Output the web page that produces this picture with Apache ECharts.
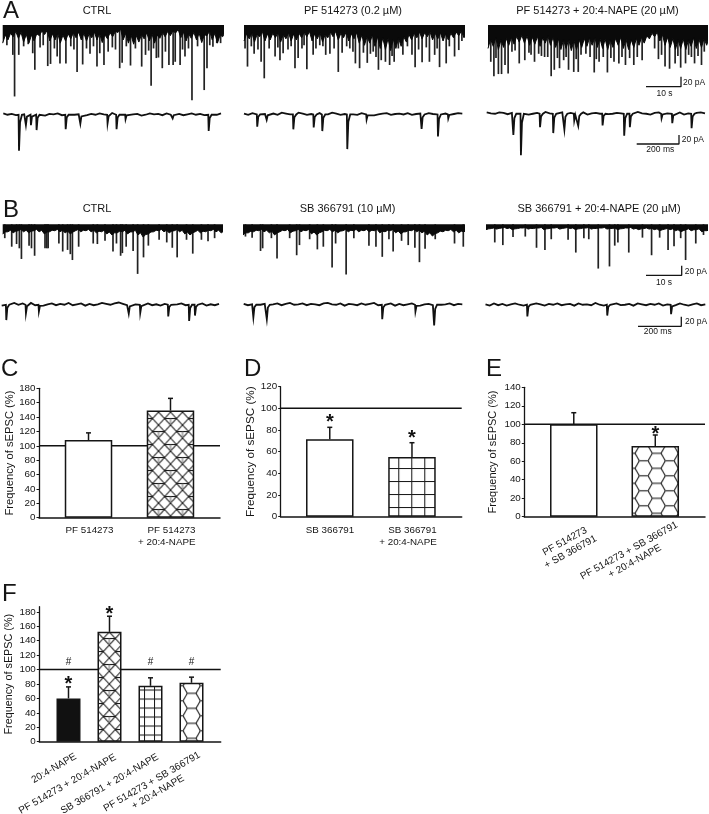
<!DOCTYPE html>
<html>
<head>
<meta charset="utf-8">
<title>sEPSC frequency</title>
<style>
  html, body { margin: 0; padding: 0; background: #fff; }
  #chart { width: 709px; height: 814px; }
</style>
<script src="https://cdn.jsdelivr.net/npm/echarts@6/dist/echarts.min.js"></script>
</head>
<body>
<div id="chart"></div>
<script>
// ---- long traces: time in s, depth in pA ----
var envelopeStep = 1.5
var a1Envelope = [34,28,22,25,32,34,30,20,18,30,28,34,30,26,24,28,30,24,28,33,26,22,14,28,34,36,32,26,30,34,25,22,20,15,24,30,25,28,33,20,28,34,22]
var a1Spikes = [[3.4,134],[4.6,56],[2.9,56],[9.2,84],[8.6,53],[12.9,77],[13.7,73],[15.6,59],[16.4,72],[18.1,72],[21.3,88],[22.9,74],[25,54],[27,78],[27.8,53],[29,75],[30.2,50],[33.5,81],[34.2,71],[36.6,76],[39.8,78],[40.9,56],[42.5,114],[44,62],[44.6,61],[45.7,81],[47.6,75],[48.8,75],[49.4,69],[50.8,75],[52.2,59],[54.2,141],[57.7,122],[58.5,81],[60.2,41],[61.3,34],[62.4,34]]
var a1Teeth = [[1.2,38],[6,40],[7.3,36],[10.7,42],[11.6,38],[14.8,44],[19.5,40],[20.4,46],[24,44],[26,40],[31.4,42],[32.3,46],[35.4,40],[38,44],[41.8,48],[43.2,44],[46.6,50],[51.5,46],[53.2,44],[55.8,40],[59.3,38]]
var a2Envelope = [30,26,32,22,30,28,24,32,26,30,28,24,22,30,26,32,24,22,28,24,30,26,34,38,34,40,44,46,48,44,40,32,28,24,26,22,28,26,30,28,24,20,24]
var a2Spikes = [[1,78],[5.8,100],[4.9,69],[2.9,54],[8.9,59],[10.3,66],[11.2,53],[14.6,81],[15.5,62],[18,83],[19.8,56],[21.7,38],[23.4,56],[24.6,54],[27,88],[28.1,52],[31.2,50],[31.9,72],[33.1,81],[35.3,71],[37,50],[38.5,84],[39.3,66],[40.5,69],[41.7,75],[43,69],[45.5,56],[48.1,56],[49,79],[51,70],[53.1,69],[54.6,56],[56,79],[57.9,72],[60.3,59],[61.5,47]]
var a2Teeth = [[0.3,44],[2.1,40],[4,46],[7.2,44],[9.7,42],[12.6,46],[13.5,40],[16.6,44],[17.2,38],[20.6,44],[22.6,40],[25.8,44],[29.4,40],[30.3,44],[34.2,52],[36.2,54],[37.8,60],[42.4,58],[44.2,44],[46.8,40],[50,46],[52.2,42],[55.3,44],[58.8,40],[62.4,30]]
var a3Envelope = [44,40,46,42,38,36,32,34,38,36,40,34,38,42,46,44,48,46,42,40,38,42,44,46,42,38,44,46,42,38,34,26,22,30,38,42,46,44,46,40,44,42,38]
var a3Spikes = [[0.8,69],[1.7,96],[3,92],[3.9,92],[4.9,75],[5.8,91],[9,72],[10.6,66],[13.4,69],[16.3,60],[18.2,96],[19.1,84],[20.6,81],[21.8,66],[23.2,84],[24.7,88],[26,88],[26.8,56],[30.6,89],[32,69],[34.4,89],[36.3,69],[37.7,72],[39.6,75],[42,75],[44.4,66],[49.1,64],[51,78],[52.3,82],[53.9,72],[55.5,80],[56.9,72],[59.5,72],[61.5,75]]
var a3Teeth = [[2.3,62],[6.9,50],[7.8,48],[11.8,52],[12.4,56],[14.6,54],[15.4,58],[17.2,60],[20,62],[22.5,60],[25.4,64],[28.2,54],[29.4,60],[31.2,64],[33.2,60],[35.4,62],[38.6,60],[40.8,62],[43,60],[48,44],[50,56],[54.7,58],[57.8,56],[58.6,60],[60.5,58],[62.3,50]]
var b1Envelope = [18,14,16,12,14,16,12,14,18,14,12,14,16,18,12,14,12,14,16,14,18,20,16,14,18,14,20,24,18,14,12,14,16,12,14,18,20,14,16,14,12,14,16]
var b1Spikes = [[0.6,26],[2.6,42],[4,37],[4.8,45],[5.4,65],[7.6,40],[8.3,45],[9.2,59],[12.2,45],[12.7,45],[13.1,45],[16.2,36],[17.3,51],[18.7,48],[19.5,56],[20.1,67],[21.9,42],[26.1,36],[27.3,37],[29.5,31],[31.8,51],[32.8,36],[34,59],[34.5,54],[35.6,42],[37.6,50],[38.9,93],[40.6,62],[42,40],[45.1,29],[47.3,34],[48.9,44],[50.3,62],[53,29],[54.8,55],[57.3,29],[59.2,32],[61.1,26]]
var b2Envelope = [20,16,14,12,14,16,20,14,12,16,12,14,12,18,20,14,12,14,16,12,14,12,14,12,14,12,16,14,12,16,18,14,12,14,16,20,22,16,14,12,14,16,14]
var b2Spikes = [[0.7,23],[2.6,25],[5,50],[5.6,45],[8.1,26],[9.7,64],[13.3,26],[15.3,58],[16.1,39],[19,28],[21.2,47],[22.9,42],[25.4,81],[26.4,36],[29.4,94],[31.6,26],[35.9,40],[37.9,42],[39.7,61],[41.6,28],[42.8,51],[45.2,31],[47.1,39],[49,44],[50.3,71],[51.9,46],[54.8,28],[60.3,36],[62.8,42]]
var b3Envelope = [10,8,9,7,8,10,8,7,9,8,7,10,8,7,9,7,8,10,8,7,9,8,7,9,8,10,8,7,9,10,8,9,10,12,9,10,12,14,10,12,10,14,12]
var b3Spikes = [[2.5,34],[4.8,39],[7.7,24],[11.2,23],[14.4,44],[16.8,48],[18.6,28],[23.4,29],[25.6,53],[27.9,26],[29.3,28],[32,83],[35.2,79],[36.7,40],[37.6,34],[40.7,53],[44.6,25],[47.2,58],[49.5,25],[51.9,48],[53.6,41],[55.5,26],[56.9,67],[59.8,36],[62,20]]

// ---- short traces: time in ms, pA ----
var noiseStep = 20
var a1ShortNoise = [2,-1,1,-2,3,0,-2,1,2,-1,-3,1,0,2,-2,1,3,-1,0,2,-2,1,-1,2,0,-2,3,1,-1,2,-2,0,1,-3,-1,2,0,1,-2,2,-1,-3,1,-2,0,2,-1,1,-2,2,0,-1,2]
var a1ShortEvents = [[75,81],[108,24],[132,24],[159,35],[298,33],[368,21],[498,20],[541,33],[584,11],[809,9],[981,37]]
var a2ShortNoise = [1,-2,2,-1,-3,0,2,1,-2,3,1,-1,2,3,1,-2,0,1,2,-2,-1,3,1,-2,0,2,-1,-2,2,0,-1,-3,-1,1,2,-2,0,1,-1,2,-2,0,1,-2,2,0,-3,-1,1,-2,0,2,1]
var a2ShortEvents = [[63,28],[108,13],[235,34],[332,30],[373,38],[492,78],[584,12],[846,33],[924,50],[973,10]]
var a3ShortNoise = [2,0,-1,2,1,-2,1,3,-1,0,-3,-1,1,-2,3,0,-2,1,2,-1,1,-2,0,2,-3,0,1,-1,2,-2,-1,1,0,2,-2,1,3,0,-1,-3,1,2,-2,0,1,-1,2,-3,0,-2,1,2,0]
var a3ShortEvents = [[127,48],[163,93],[254,31],[317,44],[370,36],[417,16],[436,28],[552,27],[655,50],[682,31],[833,11],[884,22],[976,33]]
var b1ShortNoise = [-3,1,-2,3,-1,2,0,3,-2,1,-3,0,2,-2,1,-1,3,-2,0,2,-3,1,-2,0,3,1,-1,2,4,1,-2,3,0,-3,-1,2,-2,0,-3,1,3,-1,0,2,-2,1,-3,-1,2,-3,0,-2,1]
var b1ShortEvents = [[22,35],[116,20],[178,16],[608,21],[663,19],[797,27],[897,37],[925,25]]
var b2ShortNoise = [1,-2,0,2,-1,1,-3,0,2,-2,1,3,-1,0,2,-2,1,0,-2,2,3,0,-1,2,-3,1,0,-2,2,-1,1,3,-2,0,-1,2,-3,1,-2,0,2,-1,-3,0,1,-2,2,-1,0,2,-2,1,0]
var b2ShortEvents = [[46,29],[110,33],[659,33],[817,16],[906,47]]
var b3ShortNoise = [0,-3,2,-2,1,-3,0,2,-1,-3,1,-2,2,0,-3,1,-1,2,-2,0,1,-3,2,-1,0,-2,3,-1,-3,1,0,2,-2,-1,1,-3,2,0,-2,1,-1,2,-3,0,1,-2,2,-1,-3,0,2,-2,0]
var b3ShortEvents = [[198,27],[576,25],[878,22]]

// ---- bar panels ----
var cCategories = ['PF 514273', 'PF 514273\n+ 20:4-NAPE']
var cValues = [108, 149]
var cErrors = [118, 166]
var cTicks = [0, 20, 40, 60, 80, 100, 120, 140, 160, 180]

var dCategories = ['SB 366791', 'SB 366791\n+ 20:4-NAPE']
var dValues = [71.5, 55]
var dErrors = [82.5, 68.3]
var dTicks = [0, 20, 40, 60, 80, 100, 120]
var dStars = [[0, 90], [1, 75.4]]

var eCategories = ['PF 514273\n+ SB 366791', 'PF 514273 + SB 366791\n+ 20:4-NAPE']
var eValues = [100, 76.5]
var eErrors = [112.5, 88.4]
var eTicks = [0, 20, 40, 60, 80, 100, 120, 140]
var eStars = [[1, 92.7]]

var fCategories = ['20:4-NAPE', 'PF 514273 + 20:4-NAPE', 'SB 366791 + 20:4-NAPE', 'PF 514273 + SB 366791\n+ 20:4-NAPE']
var fValues = [60, 152.3, 77.5, 81.7]
var fErrors = [76, 174, 88.6, 89.5]
var fTicks = [0, 20, 40, 60, 80, 100, 120, 140, 160, 180]
var fStars = [[0, 84], [1, 181]]
var fHashes = [[0, 110], [2, 110], [3, 110]]

var INK = '#151515'
var FONT = '"Liberation Sans", Arial, sans-serif'

function tile(w, h, draw) {
  var c = document.createElement('canvas')
  c.width = w
  c.height = h
  var ctx = c.getContext('2d')
  ctx.fillStyle = '#fff'
  ctx.fillRect(0, 0, w, h)
  ctx.strokeStyle = '#1c1c1c'
  ctx.lineWidth = 1.1
  draw(ctx)
  return c
}
function segs(ctx, list) {
  list.forEach(function (s) {
    ctx.beginPath()
    ctx.moveTo(s[0], s[1])
    ctx.lineTo(s[2], s[3])
    ctx.stroke()
  })
}
function gridTile(w, h) {
  return tile(w, h, function (ctx) {
    segs(ctx, [[0.5, 0, 0.5, h], [0, 0.5, w, 0.5]])
  })
}
var hexTile = tile(26, 15, function (ctx) {
  segs(ctx, [[0, 7.5, 4.3, 0], [4.3, 0, 13, 0], [13, 0, 17.3, 7.5], [17.3, 7.5, 26, 7.5], [13, 15, 17.3, 7.5], [0, 7.5, 4.3, 15], [4.3, 15, 13, 15]])
})
var mosaicTile = tile(24, 26, function (ctx) {
  segs(ctx, [
    [0, 0, 24, 26], [12, 0, 24, 13], [0, 13, 12, 26],
    [24, 0, 0, 26], [12, 0, 0, 13], [24, 13, 12, 26],
    [6, 6.5, 18, 6.5], [0, 19.5, 6, 19.5], [18, 19.5, 24, 19.5]
  ])
  ctx.strokeStyle = '#777'
  segs(ctx, [[12, 6.5, 12, 13], [0, 19.5, 0, 26], [24, 19.5, 24, 26]])
})

var grids = [], xAxes = [], yAxes = [], series = [], texts = []

function addAxes(g, x, y) {
  var idx = grids.length
  grids.push(g)
  xAxes.push(Object.assign({ gridIndex: idx, type: 'value', show: false, splitLine: { show: false } }, x))
  yAxes.push(Object.assign({ gridIndex: idx, type: 'value', show: false, splitLine: { show: false } }, y))
  return idx
}

function addLongTrace(left, top, width, notch, envelope, spikes, teeth) {
  var idx = addAxes({ left: left, top: top, width: width, height: 80 }, { min: 0, max: 63 }, { min: -150, max: 0 })
  // dense band: every read depth followed by a notch back towards the band
  var band = []
  envelope.forEach(function (v, i) {
    band.push([i * envelopeStep, -v], [(i + 0.5) * envelopeStep, -v * notch])
  })
  series.push({
    type: 'line', xAxisIndex: idx, yAxisIndex: idx, symbol: 'none', silent: true,
    data: band,
    lineStyle: { color: '#0a0a0a', width: 1 },
    areaStyle: { color: '#0a0a0a', opacity: 1, origin: 'end' }
  })
  series.push({
    type: 'bar', xAxisIndex: idx, yAxisIndex: idx, barWidth: 1.7, silent: true,
    data: spikes.concat(teeth || []).map(function (s) { return [s[0], -s[1]] }),
    itemStyle: { color: '#222' }
  })
}

function addShortTrace(left, baseline, width, noise, events) {
  var idx = addAxes({ left: left, top: baseline - 4.5, width: width, height: 54 }, { min: 0, max: 1048 }, { min: -110, max: 10 })
  var pts = []
  noise.forEach(function (v, i) {
    var t = i * noiseStep
    var near = events.some(function (e) { return t > e[0] - 5 && t < e[0] + 18 })
    if (!near) pts.push([t, v])
  })
  events.forEach(function (e) {
    pts.push([e[0] - 2, -1], [e[0], -e[1]], [e[0] + 2, -e[1] * 0.7], [e[0] + 5, -e[1] * 0.22], [e[0] + 14, -1])
  })
  pts.sort(function (a, b) { return a[0] - b[0] })
  series.push({
    type: 'line', xAxisIndex: idx, yAxisIndex: idx, symbol: 'none', silent: true, data: pts,
    lineStyle: { color: '#111', width: 1.8, join: 'miter' }
  })
}

function addScaleBar(left, top, width, height, span) {
  var idx = addAxes({ left: left, top: top, width: width, height: height }, { min: 0, max: span }, { min: 0, max: 20 })
  series.push({
    type: 'line', xAxisIndex: idx, yAxisIndex: idx, symbol: 'none', silent: true, clip: false,
    data: [[0, 0], [span, 0], [span, 20]],
    lineStyle: { color: INK, width: 1.3 }
  })
}

function addBarPanel(p) {
  var idx = addAxes(
    { left: p.left, top: p.top, width: p.width, height: p.height },
    { min: p.xMin, max: p.xMax, show: true, axisLabel: { show: false }, axisTick: { show: false }, axisLine: { onZero: false, lineStyle: { color: INK, width: 1.5 } } },
    {
      min: 0, max: p.yMax, show: true,
      axisLine: { show: true, onZero: false, lineStyle: { color: INK, width: 1.3 } },
      axisTick: { show: true, length: 2.5, customValues: p.ticks, lineStyle: { color: INK, width: 1 } },
      axisLabel: { customValues: p.ticks, color: INK, fontSize: 9.8, fontFamily: FONT, margin: 3.5 },
      name: 'Frequency of sEPSC (%)', nameLocation: 'middle', nameGap: p.nameGap,
      nameTextStyle: { color: INK, fontSize: p.nameSize, fontFamily: FONT }
    }
  )
  // 100 % line
  series.push({
    type: 'line', xAxisIndex: idx, yAxisIndex: idx, symbol: 'none', silent: true, z: 1,
    data: [[p.xMin, 100], [p.xMax, 100]],
    lineStyle: { color: '#111', width: 1.5 }
  })
  series.push({
    type: 'custom', xAxisIndex: idx, yAxisIndex: idx, silent: true, z: 2,
    data: p.errors.map(function (v, i) { return [i, p.values[i], v] }),
    clip: false,
    renderItem: function (params, api) {
      var a = api.coord([api.value(0), api.value(1)])
      var b = api.coord([api.value(0), api.value(2)])
      var st = { stroke: INK, lineWidth: 1.5, fill: 'none' }
      return {
        type: 'group',
        children: [
          { type: 'line', shape: { x1: a[0], y1: a[1], x2: b[0], y2: b[1] }, style: st },
          { type: 'line', shape: { x1: b[0] - 2.5, y1: b[1], x2: b[0] + 2.5, y2: b[1] }, style: st }
        ]
      }
    }
  })
  series.push({
    type: 'bar', xAxisIndex: idx, yAxisIndex: idx, barWidth: p.barWidth, silent: true, z: 3,
    data: p.values.map(function (v, i) {
      var f = p.fills[i]
      return { value: [i, v], itemStyle: { color: f.image ? { image: f.image, repeat: 'repeat', x: f.x || 0, y: f.y || 0 } : f } }
    }),
    itemStyle: { borderColor: INK, borderWidth: 1.5 }
  })
  if (p.marks) p.marks.forEach(function (m) {
    series.push({
      type: 'custom', xAxisIndex: idx, yAxisIndex: idx, silent: true, z: 4, clip: false,
      data: m.points,
      renderItem: function (params, api) {
        var c = api.coord([api.value(0), api.value(1)])
        return {
          type: 'text', x: c[0], y: c[1] + m.dy,
          style: { text: m.text, font: m.font, fill: '#111', align: 'center', verticalAlign: 'middle' }
        }
      }
    })
  })
}

function addText(str, x, y, size, opts) {
  opts = opts || {}
  texts.push({
    type: 'text', x: x, y: y, rotation: (opts.rot || 0) * Math.PI / 180, silent: true, z: 10,
    style: {
      text: str, fill: INK, font: size + 'px ' + FONT, lineHeight: opts.lh || size * 1.2,
      align: opts.align || 'center', verticalAlign: 'middle'
    }
  })
}

// traces
addLongTrace(2.7, 25, 220, 0.55, a1Envelope, a1Spikes, a1Teeth)
addLongTrace(244, 25, 220, 0.55, a2Envelope, a2Spikes, a2Teeth)
addLongTrace(488, 25, 218.7, 0.6, a3Envelope, a3Spikes, a3Teeth)
addLongTrace(2.7, 224.3, 218.5, 0.8, b1Envelope, b1Spikes)
addLongTrace(243, 224.3, 221, 0.8, b2Envelope, b2Spikes)
addLongTrace(486, 224.3, 221, 0.85, b3Envelope, b3Spikes)
addShortTrace(3.3, 114.3, 219.4, a1ShortNoise, a1ShortEvents)
addShortTrace(244, 114, 220, a2ShortNoise, a2ShortEvents)
addShortTrace(486.7, 113.3, 220, a3ShortNoise, a3ShortEvents)
addShortTrace(1.7, 304.3, 219, b1ShortNoise, b1ShortEvents)
addShortTrace(243.7, 304.3, 220.3, b2ShortNoise, b2ShortEvents)
addShortTrace(485.5, 304.3, 221.5, b3ShortNoise, b3ShortEvents)

// scale bars
addScaleBar(646, 76.7, 35, 10, 10)
addScaleBar(636.7, 135, 42.3, 9, 200)
addScaleBar(646, 265.7, 35.7, 9.6, 10)
addScaleBar(638, 316.7, 43.3, 9.6, 200)

var STAR = 'bold 20px ' + FONT
var HASH = '10px ' + FONT

addBarPanel({
  left: 39, top: 388.3, width: 181, height: 129.4, xMin: -0.604, xMax: 1.604, yMax: 180,
  ticks: cTicks, values: cValues, errors: cErrors, barWidth: 47.5, nameGap: 24, nameSize: 11.2,
  fills: ['#fff', { image: mosaicTile, x: 146.5, y: 399 }]
})
addBarPanel({
  left: 280.7, top: 386.7, width: 181, height: 130, xMin: -0.597, xMax: 1.605, yMax: 120,
  ticks: dTicks, values: dValues, errors: dErrors, barWidth: 47.5, nameGap: 23.5, nameSize: 11.7,
  fills: ['#fff', { image: gridTile(13, 13), x: 398.2, y: 468 }],
  marks: [{ points: dStars, text: '*', font: STAR, dy: 3.5 }]
})
addBarPanel({
  left: 524.3, top: 387.3, width: 180.7, height: 129.4, xMin: -0.607, xMax: 1.61, yMax: 140,
  ticks: eTicks, values: eValues, errors: eErrors, barWidth: 47.5, nameGap: 25.5, nameSize: 11,
  fills: ['#fff', { image: hexTile, x: 648, y: 453.3 }],
  marks: [{ points: eStars, text: '*', font: STAR, dy: 3.5 }]
})
addBarPanel({
  left: 39.3, top: 606.7, width: 181.4, height: 135, xMin: -0.712, xMax: 3.712, yMax: 187.2,
  ticks: fTicks, values: fValues, errors: fErrors, barWidth: 24, nameGap: 24.5, nameSize: 10.8,
  fills: ['#111', { image: mosaicTile, x: 97.3, y: 632 }, { image: gridTile(10, 9), x: 144, y: 716.5 }, { image: hexTile, x: 183, y: 693.3 }],
  marks: [
    { points: fStars, text: '*', font: STAR, dy: 3.5 },
    { points: fHashes, text: '#', font: HASH, dy: 0 }
  ]
})

// panel letters and titles
addText('A', 3, 11.5, 24, { align: 'left' })
addText('B', 3, 210.5, 24, { align: 'left' })
addText('C', 1, 369.5, 24, { align: 'left' })
addText('D', 244, 369.5, 24, { align: 'left' })
addText('E', 486, 369.5, 24, { align: 'left' })
addText('F', 2, 594, 24, { align: 'left' })

addText('CTRL', 97, 11, 11)
addText('PF 514273 (0.2 µM)', 353, 11, 11)
addText('PF 514273 + 20:4-NAPE (20 µM)', 597.5, 11, 11)
addText('CTRL', 97, 209, 11)
addText('SB 366791 (10 µM)', 347.5, 209, 11)
addText('SB 366791 + 20:4-NAPE (20 µM)', 599, 209, 11)

addText('20 pA', 683, 82.5, 8.5, { align: 'left' })
addText('10 s', 664.5, 94, 8.5)
addText('20 pA', 681.7, 139.5, 8.5, { align: 'left' })
addText('200 ms', 660.3, 150, 8.5)
addText('20 pA', 684.7, 271.7, 8.5, { align: 'left' })
addText('10 s', 664, 282.7, 8.5)
addText('20 pA', 685, 321.3, 8.5, { align: 'left' })
addText('200 ms', 657.7, 331.7, 8.5)

// category labels
addText(cCategories[0], 89.5, 530, 9.8)
addText(cCategories[1], 195.5, 536, 9.8, { align: 'right', lh: 11.7 })
addText(dCategories[0], 330, 530, 9.8)
addText(dCategories[1], 436.7, 536, 9.8, { align: 'right', lh: 11.7 })
addText(eCategories[0], 567.7, 546.7, 10, { rot: 29, lh: 12 })
addText(eCategories[1], 632, 556, 10, { rot: 29, lh: 12 })
addText(fCategories[0], 54, 768.3, 10, { rot: 30 })
addText(fCategories[1], 67.5, 784, 10, { rot: 30 })
addText(fCategories[2], 109.7, 784, 10, { rot: 30 })
addText(fCategories[3], 155, 787, 10, { rot: 30, lh: 12 })

var chart = echarts.init(document.getElementById('chart'))
chart.setOption({
  backgroundColor: '#fff',
  animation: false,
  grid: grids,
  xAxis: xAxes,
  yAxis: yAxes,
  series: series,
  graphic: texts
})
</script>
</body>
</html>
